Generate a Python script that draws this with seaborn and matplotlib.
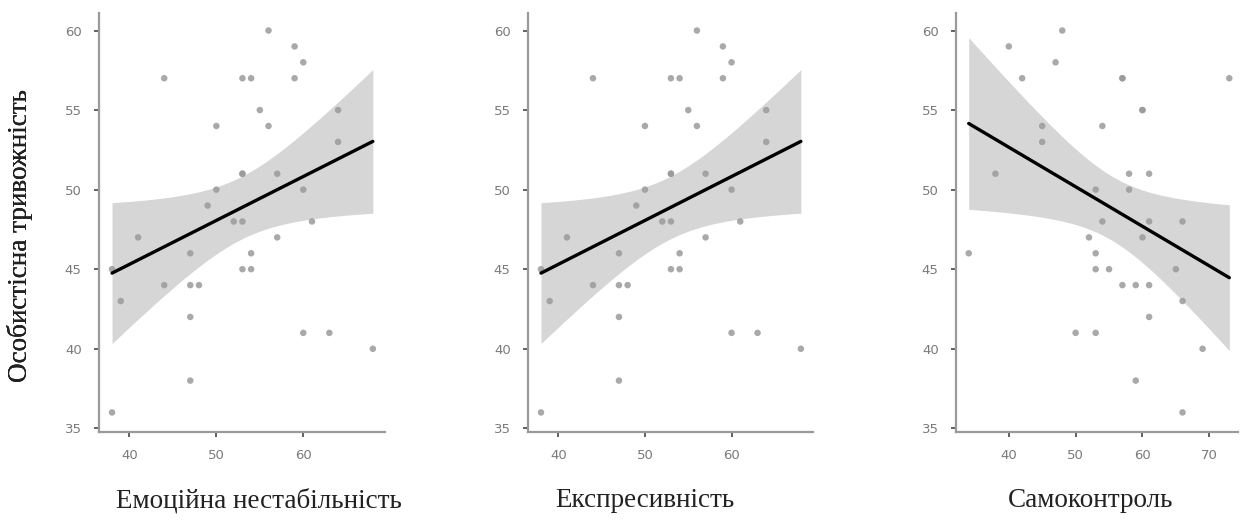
import numpy as np
import pandas as pd
import matplotlib
matplotlib.use('Agg')
import matplotlib.pyplot as plt
import seaborn as sns

# ── DATA ───────────────────────────────────────────────────
emotional_instability = [38, 38, 39, 41, 44, 44, 47, 47, 48, 47, 47, 49, 50, 50, 52,
                         53, 53, 54, 53, 53, 53, 54, 54, 55, 56, 56, 57, 57, 59, 59,
                         60, 60, 60, 61, 63, 64, 64, 68]
expressiveness = list(emotional_instability)
anxiety_a = [36, 45, 43, 47, 57, 44, 46, 44, 44, 42, 38, 49, 54, 50, 48,
             48, 57, 57, 51, 51, 45, 45, 46, 55, 60, 54, 51, 47, 59, 57,
             58, 50, 41, 48, 41, 55, 53, 40]

self_control = [34, 38, 40, 42, 45, 45, 47, 48, 50, 52, 53, 53, 53, 53, 54, 54, 55,
                57, 57, 57, 58, 58, 59, 59, 60, 60, 60, 61, 61, 61, 61, 65, 66,
                66, 66, 69, 73]
anxiety_b = [46, 51, 59, 57, 54, 53, 58, 60, 41, 47, 50, 46, 45, 41, 54, 48, 45,
             57, 57, 44, 51, 50, 44, 38, 55, 55, 47, 51, 48, 44, 42, 45, 48,
             43, 36, 40, 57]

y_label = 'Особистісна тривожність'
x_labels = ['Емоційна нестабільність', 'Експресивність', 'Самоконтроль']
x_ticks = [[40, 50, 60], [40, 50, 60], [40, 50, 60, 70]]
y_ticks = [35, 40, 45, 50, 55, 60]

panels = [
    (emotional_instability, anxiety_a),
    (expressiveness, anxiety_a),
    (self_control, anxiety_b),
]


def ci_band(x, y, grid, t_crit=2.03):
    # classic (analytic) 95% confidence band of the OLS fit
    x = np.asarray(x, float)
    y = np.asarray(y, float)
    n = len(x)
    b1, b0 = np.polyfit(x, y, 1)
    resid = y - (b0 + b1 * x)
    s = np.sqrt(np.sum(resid ** 2) / (n - 2))
    sxx = np.sum((x - x.mean()) ** 2)
    se = s * np.sqrt(1 / n + (grid - x.mean()) ** 2 / sxx)
    fit = b0 + b1 * grid
    return fit - t_crit * se, fit + t_crit * se


# ── LAYOUT ─────────────────────────────────────────────────
W, H = 1247, 521
sns.set_style('white')
fig = plt.figure(figsize=(W / 100, H / 100), dpi=100)

# pixel boxes: left, right, top, bottom
boxes = [(99, 385, 13, 432), (528, 813, 13, 432), (956, 1238, 13, 432)]
xlims = [(36.5, 69.4), (36.5, 69.4), (32.1, 74.3)]
xlabel_x = [259, 645, 1091]
serif = ['Liberation Serif', 'DejaVu Serif']

for i, ((xv, yv), (l, r, t, b)) in enumerate(zip(panels, boxes)):
    ax = fig.add_axes([l / W, 1 - b / H, (r - l) / W, (b - t) / H])
    df = pd.DataFrame({'x': xv, 'y': yv})
    sns.regplot(data=df, x='x', y='y', ax=ax, ci=None,
                color='black',
                scatter_kws={'s': 22, 'color': '#9a9a9a', 'alpha': 0.85,
                             'edgecolor': 'none', 'zorder': 3},
                line_kws={'lw': 2.4, 'color': 'black', 'zorder': 4})
    grid = np.linspace(min(xv), max(xv), 200)
    lo, hi = ci_band(xv, yv, grid)
    ax.fill_between(grid, lo, hi, color='#d6d6d6', lw=0, zorder=1)

    ax.set_xlim(*xlims[i])
    ax.set_ylim(34.77, 61.1)
    ax.set_xticks(x_ticks[i])
    ax.set_yticks(y_ticks)
    sns.despine(ax=ax)
    for side in ['left', 'bottom']:
        ax.spines[side].set_color('#9a9a9a')
        ax.spines[side].set_linewidth(1.6)
    ax.tick_params(axis='both', which='both', length=3.5, width=1.3,
                   color='#555555', labelcolor='#7a7a7a', labelsize=9.5, pad=9,
                   left=True, bottom=True)

    ax.set_ylabel(y_label, fontsize=19.5, family=serif, color='#222222')
    ax.yaxis.set_label_coords((33 - l) / (r - l), 1 - (236 - t) / (b - t))
    ax.set_xlabel(x_labels[i], fontsize=19.5, family=serif, color='#222222')
    ax.xaxis.set_label_coords((xlabel_x[i] - l) / (r - l), -(488 - b) / (b - t))

plt.savefig('out.png', dpi=100)
